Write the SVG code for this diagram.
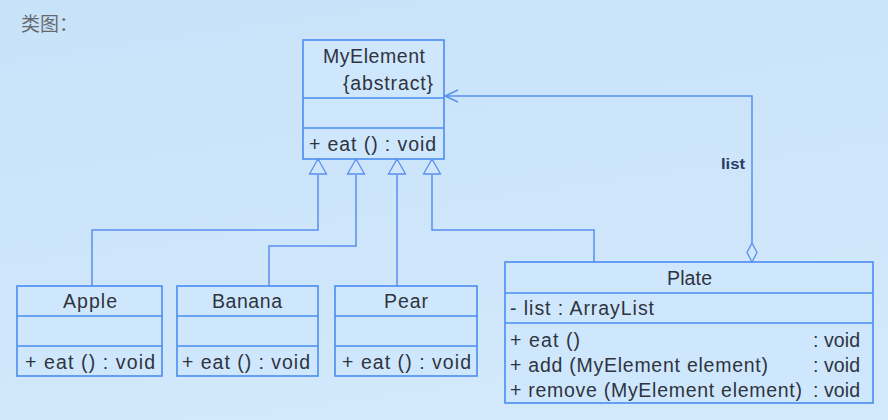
<svg xmlns="http://www.w3.org/2000/svg" width="888" height="420" viewBox="0 0 888 420">
<defs>
<linearGradient id="bg" x1="0" y1="0" x2="0.3" y2="1">
<stop offset="0" stop-color="#c8e2f9"/>
<stop offset="1" stop-color="#d2e8fb"/>
</linearGradient>
</defs>
<style>
.box{fill:#cfe7fc;stroke:#4a8cf0;stroke-width:1.6}
.div{stroke:#4a8cf0;stroke-width:1.6}
.t{font-family:"Liberation Sans",Arial,sans-serif;font-size:19.5px;fill:#2e3440}
.con{fill:none;stroke:#5a8ff0;stroke-width:1.5}
</style>
<rect width="888" height="420" fill="url(#bg)"/>
<text x="21" y="31" font-family="'Noto Sans CJK SC',sans-serif" font-size="19" fill="#666a70">类图：</text>

<g id="connectors">
<polyline class="con" points="92,286 92,230 318,230 318,175"/>
<polyline class="con" points="269,286 269,246 356,246 356,175"/>
<polyline class="con" points="397,286 397,175"/>
<polyline class="con" points="594,262 594,230 432,230 432,175"/>
<path d="M318,159 L326.5,174 L309.5,174 Z M356,159 L364.5,174 L347.5,174 Z M397,159 L405.5,174 L388.5,174 Z M432,159 L440.5,174 L423.5,174 Z" fill="#cfe6fb" stroke="#5a8ff0" stroke-width="1.3"/>
<polyline class="con" points="752,243 752,96 445,96"/>
<path class="con" d="M458,90 L445,96 L458,102"/>
<path d="M752,243 L757,252.5 L752,262 L747,252.5 Z" fill="#cfe6fb" stroke="#5a8ff0" stroke-width="1.3"/>
<text x="721" y="169" font-family="'Liberation Sans',Arial,sans-serif" font-size="14" font-weight="bold" fill="#283c66" textLength="24" lengthAdjust="spacingAndGlyphs">list</text>
</g>

<g id="MyElement">
<rect class="box" x="303" y="40" width="141" height="119"/>
<line class="div" x1="303" y1="98" x2="444" y2="98"/>
<line class="div" x1="303" y1="128" x2="444" y2="128"/>
<text class="t" x="323" y="63" textLength="102">MyElement</text>
<text class="t" x="343" y="90" textLength="90">{abstract}</text>
<text class="t" x="309" y="151" textLength="127">+ eat () : void</text>
</g>

<g id="Apple">
<rect class="box" x="17" y="286" width="145" height="90"/>
<line class="div" x1="17" y1="316" x2="162" y2="316"/>
<line class="div" x1="17" y1="346" x2="162" y2="346"/>
<text class="t" x="63" y="308" textLength="54">Apple</text>
<text class="t" x="25" y="369" textLength="130">+ eat () : void</text>
</g>

<g id="Banana">
<rect class="box" x="177" y="286" width="141" height="90"/>
<line class="div" x1="177" y1="316" x2="318" y2="316"/>
<line class="div" x1="177" y1="346" x2="318" y2="346"/>
<text class="t" x="212" y="308" textLength="70">Banana</text>
<text class="t" x="182" y="369" textLength="128">+ eat () : void</text>
</g>

<g id="Pear">
<rect class="box" x="335" y="286" width="142" height="90"/>
<line class="div" x1="335" y1="316" x2="477" y2="316"/>
<line class="div" x1="335" y1="346" x2="477" y2="346"/>
<text class="t" x="384" y="308" textLength="44">Pear</text>
<text class="t" x="342" y="369" textLength="129">+ eat () : void</text>
</g>

<g id="Plate">
<rect class="box" x="505" y="262" width="368" height="141"/>
<line class="div" x1="505" y1="293" x2="873" y2="293"/>
<line class="div" x1="505" y1="323" x2="873" y2="323"/>
<text class="t" x="667" y="285" textLength="45">Plate</text>
<text class="t" x="510" y="315" textLength="144">- list : ArrayList</text>
<text class="t" x="510" y="347" textLength="70">+ eat ()</text>
<text class="t" x="510" y="372" textLength="258">+ add (MyElement element)</text>
<text class="t" x="510" y="397" textLength="292">+ remove (MyElement element)</text>
<text class="t" x="813" y="347" textLength="47">: void</text>
<text class="t" x="813" y="372" textLength="47">: void</text>
<text class="t" x="813" y="397" textLength="47">: void</text>
</g>
</svg>
